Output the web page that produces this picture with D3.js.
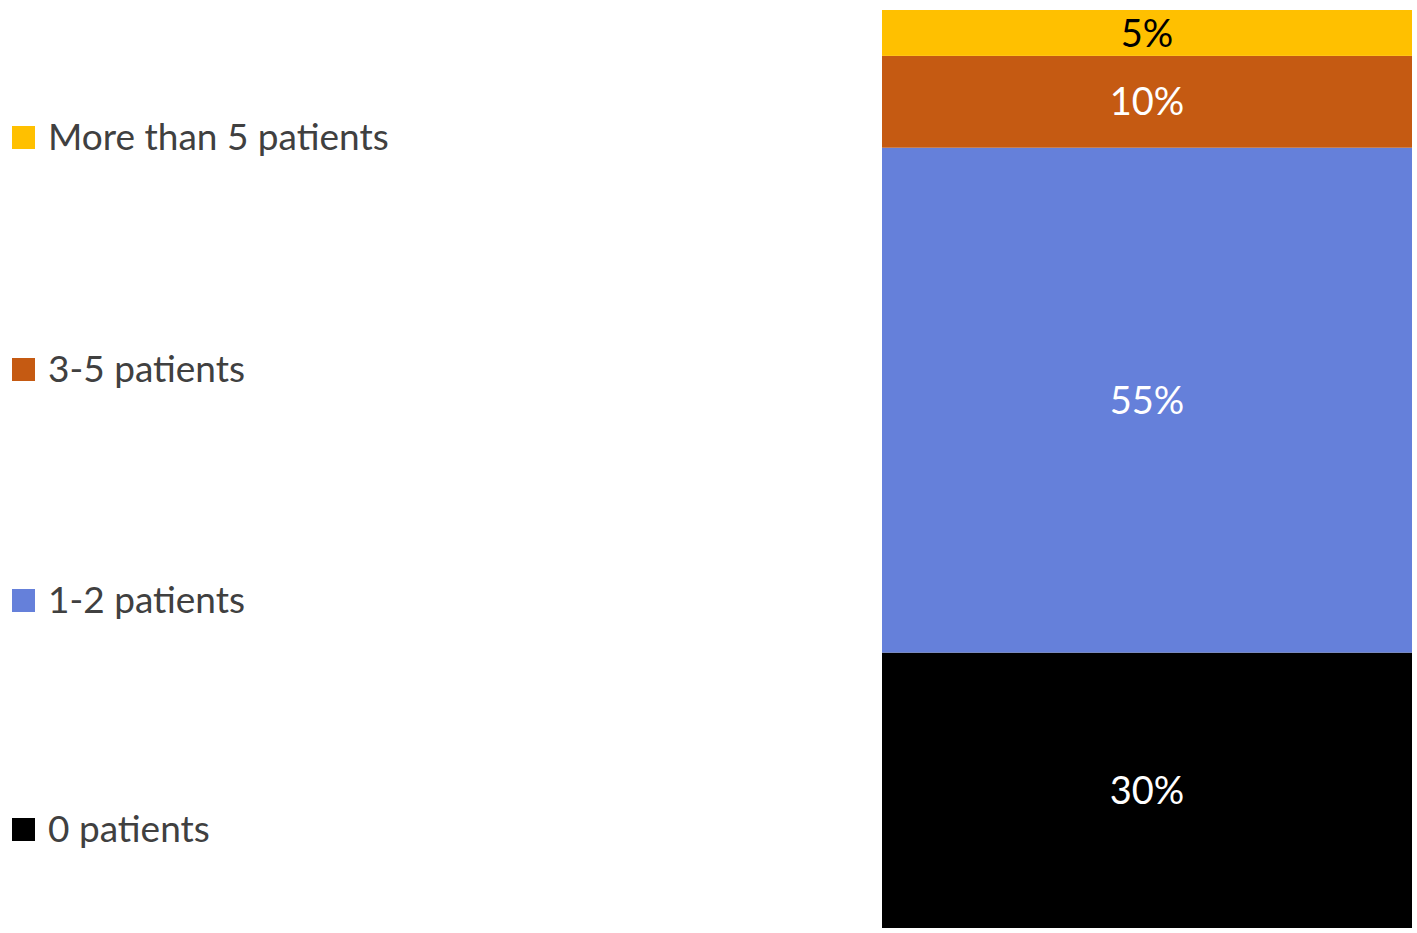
<!DOCTYPE html>
<html><head><meta charset="utf-8">
<script src="https://cdn.jsdelivr.net/npm/d3@7"></script>
<style>body{margin:0;background:#fff}</style></head>
<body><svg id="c" width="1417" height="933"></svg>
<script>
const categories = ["0 patients","1-2 patients","3-5 patients","More than 5 patients"];
const values = [30,55,10,5];
const colors = ["#000000","#6580DA","#C55A12","#FFC000"];
const labelColors = ["#ffffff","#ffffff","#ffffff","#000000"];
const legendY = [829,600,369,137];

const svg = d3.select("#c");
const y = d3.scaleLinear().domain([0,100]).range([928,10]);
const x0 = 882, x1 = 1412;
let cum = 0;
const segs = values.map((v,i)=>{const s={i,v,a:cum,b:cum+v};cum+=v;return s;});
svg.selectAll("rect.bar").data(segs).enter().append("rect")
  .attr("x",x0).attr("width",x1-x0)
  .attr("y",d=>y(d.b)).attr("height",d=>y(d.a)-y(d.b))
  .attr("fill",d=>colors[d.i]);
svg.selectAll("text.lab").data(segs).enter().append("text")
  .attr("x",(x0+x1)/2).attr("y",d=>y((d.a+d.b)/2))
  .attr("dy","0.36em").attr("text-anchor","middle")
  .attr("font-family","Lato, 'Open Sans', sans-serif").attr("font-size",38)
  .attr("fill",d=>labelColors[d.i]).text(d=>d.v+"%");
const lg = svg.selectAll("g.lg").data(categories).enter().append("g")
  .attr("transform",(d,i)=>`translate(0,${legendY[i]})`);
lg.append("rect").attr("x",12).attr("y",-11).attr("width",23).attr("height",23)
  .attr("fill",(d,i)=>colors[i]);
lg.append("text").attr("x",48).attr("dy","0.36em")
  .attr("font-family","Lato, 'Open Sans', sans-serif").attr("font-size",37)
  .attr("fill","#404040").text(d=>d);
</script></body></html>
